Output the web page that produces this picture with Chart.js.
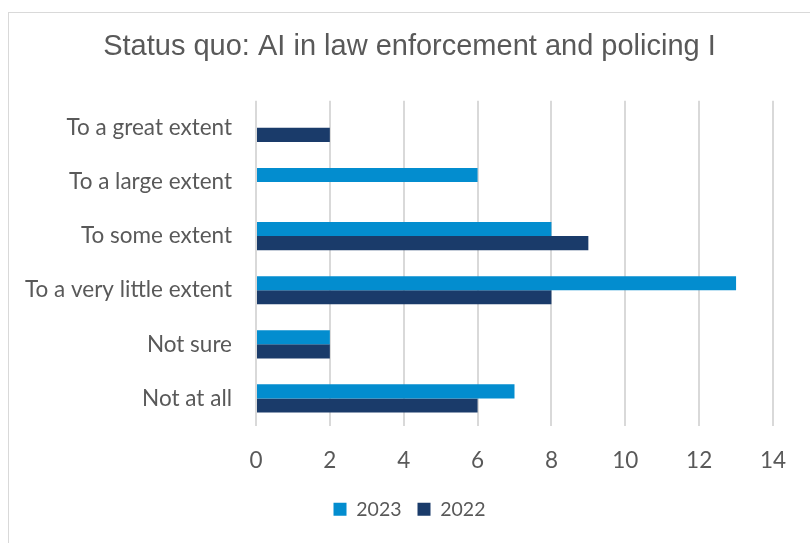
<!DOCTYPE html>
<html lang="en">
<head>
  <meta charset="UTF-8" />
  <title>Status quo: AI in law enforcement and policing I</title>
  <script src="https://cdn.jsdelivr.net/npm/chart.js"></script>
  <style>
    * {
      box-sizing: border-box;
    }
    body {
      margin: 0;
      background: #fff;
      width: 810px;
      height: 543px;
      overflow: hidden;
      position: relative;
    }
    .frame {
      position: absolute;
      left: 8px;
      top: 12px;
      width: 900px;
      height: 600px;
      border: 1px solid #d9d9d9;
    }
    .chart-container {
      position: absolute;
      left: 0;
      top: 0;
      width: 810px;
      height: 543px;
    }
  </style>
</head>
<body>
  <div class="frame"></div>
  <div class="chart-container">
    <canvas id="chart"></canvas>
  </div>
  <script>
    const categories = [
      'To a great extent',
      'To a large extent',
      'To some extent',
      'To a very little extent',
      'Not sure',
      'Not at all'
    ];
    const values2023 = [0, 6, 8, 13, 2, 7];
    const values2022 = [2, 0, 9, 8, 2, 6];
    const seriesLabels = ['2023', '2022'];

    const textColor = '#595959';
    const labelFont = 'Lato, "Open Sans", sans-serif';

    // the y axis is kept narrow so the title centres on the whole frame;
    // widen its box after layout so the long labels are not clipped
    const unclipLabels = {
      id: 'unclipLabels',
      afterLayout: chart => { chart.scales.y.left = 0; }
    };

    new Chart(document.getElementById('chart'), {
      type: 'bar',
      data: {
        labels: categories,
        datasets: [
          {
            label: seriesLabels[0],
            data: values2023,
            backgroundColor: '#038dcf',
            categoryPercentage: 0.52,
            barPercentage: 1
          },
          {
            label: seriesLabels[1],
            data: values2022,
            backgroundColor: '#1a3b6a',
            categoryPercentage: 0.52,
            barPercentage: 1
          }
        ]
      },
      options: {
        indexAxis: 'y',
        responsive: true,
        maintainAspectRatio: false,
        animation: false,
        layout: {
          padding: { left: 46, right: 37, top: 16, bottom: 14 }
        },
        scales: {
          x: {
            min: 0,
            max: 14,
            afterFit: scale => { scale.height = 58; },
            ticks: {
              stepSize: 2,
              color: textColor,
              padding: 22,
              font: { family: labelFont, size: 22.5 }
            },
            grid: {
              color: '#d9d9d9',
              lineWidth: 2,
              drawTicks: false
            },
            border: { display: false }
          },
          y: {
            afterFit: scale => { scale.width = 210; },
            ticks: {
              color: textColor,
              padding: 24,
              font: { family: labelFont, size: 22.5 }
            },
            grid: { display: false, drawTicks: false },
            border: { display: false }
          }
        },
        plugins: {
          title: {
            display: true,
            text: 'Status quo: AI in law enforcement and policing I',
            color: textColor,
            font: { family: '"Liberation Sans", Arial, sans-serif', size: 29, weight: 'normal' },
            padding: { top: 14, bottom: 36 }
          },
          legend: {
            position: 'bottom',
            labels: {
              color: textColor,
              boxWidth: 13,
              boxHeight: 13,
              padding: 16,
              font: { family: labelFont, size: 19.5 }
            }
          },
          tooltip: { enabled: false }
        }
      },
      plugins: [unclipLabels]
    });
  </script>
</body>
</html>
